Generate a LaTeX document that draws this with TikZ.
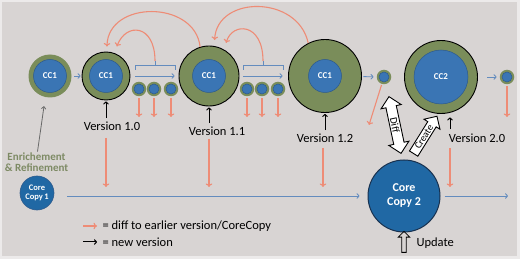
\documentclass[tikz,border=0pt]{standalone}
\usepackage{fontspec}
\setmainfont{Carlito}
\usetikzlibrary{arrows.meta,shapes.arrows}
\definecolor{bg}{RGB}{216,212,211}
\definecolor{bgedge}{RGB}{236,234,234}
\definecolor{ring}{RGB}{122,141,90}
\definecolor{core}{RGB}{58,117,180}
\definecolor{coreedge}{RGB}{45,90,140}
\definecolor{cc2}{RGB}{32,104,164}
\definecolor{cc2edge}{RGB}{25,50,80}
\definecolor{salmon}{RGB}{238,140,118}
\definecolor{steel}{RGB}{100,140,190}
\definecolor{enrich}{RGB}{125,138,100}
\definecolor{grayarr}{RGB}{105,105,105}
\begin{document}
\begin{tikzpicture}[x=1pt,y=-1pt,
  outer/.style={circle, fill=ring, inner sep=0pt, minimum size=#1},
  outerv/.style={outer=#1, draw=black, line width=0.9pt},
  inner/.style={circle, fill=core, draw=coreedge, line width=0.5pt, inner sep=0pt, minimum size=#1, text=white, font=\bfseries\fontsize{9}{9}\selectfont},
  redarrow/.style={draw=salmon, line width=1.1pt, -{To[length=3.5pt,width=6.5pt]}},
  bluearrow/.style={draw=steel, line width=0.9pt, -{To[length=3pt,width=5.5pt]}},
  blackarrow/.style={draw=black, line width=1pt, -{To[length=3pt,width=5.5pt]}},
  grayarrow/.style={draw=grayarr, line width=0.8pt, -{To[length=3pt,width=5pt]}},
  bracketline/.style={draw=steel, line width=0.9pt},
  vlab/.style={font=\fontsize{12.5}{14}\selectfont, inner sep=3.33pt},
]
\useasboundingbox (0,0) rectangle (520,259);
\fill[bgedge] (0,0) rectangle (520,259);
\fill[bg] (2,2) rectangle (517,256);

% big circles
\node[outer=43] (A) at (50,76) {};
\node[inner=33] (Ai) at (50,76) {CC1};
\node[outerv=48] (B) at (106,76) {};
\node[inner=33] (Bi) at (106,76) {CC1};
\node[outerv=60] (C) at (209,76) {};
\node[inner=33] (Ci) at (209,76) {CC1};
\node[outerv=73] (D) at (325,76) {};
\node[inner=33] (Di) at (325,76) {CC1};
\node[outerv=73] (F) at (441,77) {};
\node[inner=54] (Fi) at (441,77) {CC2};

% small circles
\foreach \n/\x/\y in {s1/139/89, s2/154/89, s3/171/89, s4/247/89, s5/262/89, s6/278/89, E/384/77, G/507/77}{
  \node[outer=14.5] (\n) at (\x,\y) {};
  \node[inner=10] (\n i) at (\x,\y) {};
}

% core copies
\node[circle, fill=cc2, draw=coreedge, line width=0.6pt, minimum size=34pt, inner sep=0pt, text=white, align=center,
      font=\bfseries\fontsize{8.5}{9.5}\selectfont] (CP1) at (37,193) {Core\\Copy\,1};
\node[circle, fill=cc2, draw=cc2edge, line width=1pt, minimum size=72pt, inner sep=0pt, text=white, align=center,
      font=\bfseries\fontsize{12}{14}\selectfont] (CP2) at (404,196) {Core\\Copy 2};

% blue arrows between versions
\draw[bluearrow, shorten <=2.5pt, shorten >=1pt] (A) -- (B);
\draw[bluearrow, shorten <=5pt, shorten >=4pt] (B) -- (C);
\draw[bluearrow, shorten <=4pt, shorten >=5.5pt] (C) -- (D);
\draw[bluearrow, shorten <=1.5pt, shorten >=3pt] (D) -- (E);
\draw[bluearrow, shorten <=9.5pt, shorten >=3pt] (F) -- (G);

% brackets
\coordinate (br1) at (155,61);
\coordinate (br2) at (263,61);
\draw[bracketline] (135,70) -- (135,65) -- (175,65) -- (175,70);
\draw[bracketline] (br1) -- (155,65);
\draw[bracketline] (243,70) -- (243,65) -- (283,65) -- (283,70);
\draw[bracketline] (br2) -- (263,65);

% red arcs
\draw[redarrow, shorten >=7pt] (br1) .. controls (155,24) and (126,22) .. (B.70);
\draw[redarrow, shorten >=5pt] (C.107) .. controls (195,0) and (108,0) .. (B.88);
\draw[redarrow, shorten >=6pt] (D.117) .. controls (298,-5) and (217,-5) .. (C.80);
\draw[redarrow, shorten >=7pt] (br2) .. controls (263,22) and (232,22) .. (C.60);

% red arrows below small circles
\coordinate (rowA) at (0,117);
\foreach \n in {s1,s2,s3,s4,s5,s6,G}{
  \draw[redarrow, shorten <=2pt] (\n.south) -- (\n.south |- rowA);
}
\coordinate (eend) at (369,125);
\draw[redarrow, shorten <=1pt] (E) -- (eend);

% version labels
\node[vlab] (v10) at (112,126) {Version 1.0};
\node[vlab] (v11) at (217,131) {Version 1.1};
\node[vlab] (v12) at (325,138) {Version 1.2};
\node[vlab] (v20) at (477,138) {Version 2.0};
\coordinate (vx20) at (450,0);

% black arrows to versions
\draw[blackarrow, shorten >=1pt] (B.south |- v10.north) -- (B.south);
\draw[blackarrow, shorten >=1pt] (C.south |- v11.north) -- (C.south);
\draw[blackarrow, shorten >=1pt] (D.south |- v12.north) -- (D.south);
\draw[blackarrow, shorten <=1pt] (vx20 |- v20.north) -- ([xshift=9pt,yshift=-3.5pt]F.south);

% main blue line
\coordinate (bl0) at (67,196);
\coordinate (bl1) at (508,196);
\draw[bluearrow, shorten >=8pt] (bl0) -- (CP2);
\draw[bluearrow, shorten <=4pt] (CP2) -- (bl1);

% red arrows to main line
\draw[redarrow, shorten <=4pt, shorten >=9pt] (v10.south -| B) -- (B |- bl0);
\draw[redarrow, shorten <=0pt, shorten >=9pt] (v11.south -| C) -- (C |- bl0);
\draw[redarrow, shorten <=2pt, shorten >=9pt] ([xshift=-2pt]v12.south) -- ([xshift=-2pt]v12.south |- bl0);
\draw[redarrow, shorten <=2pt, shorten >=9pt] (vx20 |- v20.south) -- (vx20 |- bl0);

% Diff and Create block arrows
\node[double arrow, draw=black, fill=white, line width=0.9pt, rotate=-78, minimum height=58pt,
      inner sep=1.2pt, double arrow head extend=5pt, font=\fontsize{10.5}{10.5}\selectfont] (diff) at (395,125) {Diff};
\node[single arrow, draw=black, fill=white, line width=0.9pt, rotate=58, minimum height=44pt,
      inner sep=1.2pt, single arrow head extend=4.5pt, font=\fontsize{10}{10}\selectfont] (create) at (424,137) {Create};

% enrichment
\node[font=\bfseries\fontsize{11}{10.5}\selectfont, text=enrich, align=center, inner sep=1pt] (enr) at (36.5,162) {Enrichement\\\& Refinement};
\draw[grayarrow] ([xshift=1pt]enr.north) -- ([xshift=-6pt,yshift=-8.5pt]A.south);

% update
\node[single arrow, draw=black, line width=0.8pt, rotate=90, minimum height=21pt, inner sep=1.8pt,
      single arrow head extend=3.5pt] (upd) at (404,243) {};
\node[vlab, anchor=west] (updt) at (413,243) {Update};

% legend
\coordinate (lr0) at (83,226);
\coordinate (lr1) at (97,226);
\coordinate (lk0) at (83,242);
\coordinate (lk1) at (97,242);
\draw[redarrow] (lr0) -- (lr1);
\draw[blackarrow] (lk0) -- (lk1);
\node[vlab, anchor=west] (leg1) at (99,226) {= diff to earlier version/CoreCopy};
\node[vlab, anchor=west] (leg2) at (99,242) {= new version};
\end{tikzpicture}
\end{document}
